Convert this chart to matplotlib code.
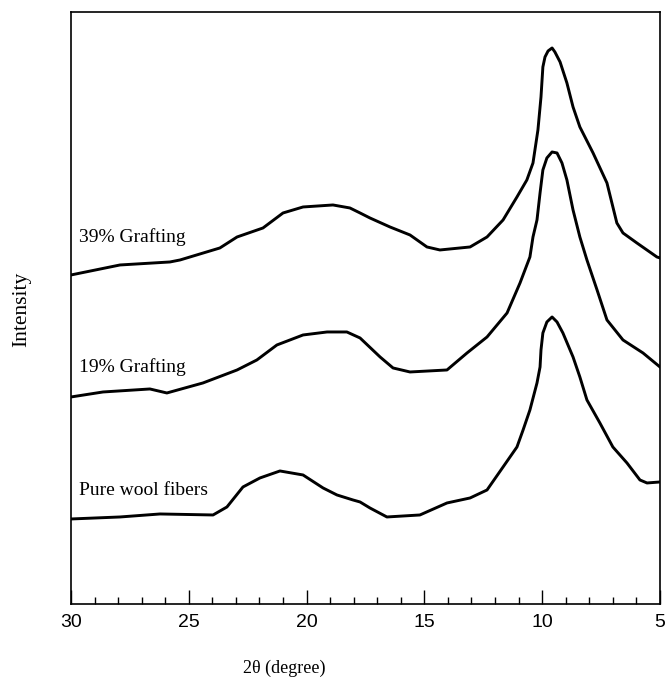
import matplotlib.pyplot as plt
from matplotlib.ticker import MultipleLocator

# 2-theta (degree) and intensity (arbitrary units)
theta_39 = [30.00, 27.92, 25.80, 25.37, 23.68, 22.95, 21.85, 21.00, 20.15, 18.88,
            18.16, 17.73, 17.31, 16.46, 15.61, 14.89, 14.34, 13.06, 12.34, 11.66,
            11.07, 10.65, 10.39, 10.18, 10.05, 9.97, 9.88, 9.75, 9.58, 9.46,
            9.24, 8.95, 8.69, 8.40, 7.84, 7.25, 6.83, 6.57, 5.98, 5.13,
            5.00]
int_39 = [329, 339, 342, 344, 356, 367, 376, 391, 397, 399,
          396, 391, 386, 377, 369, 357, 354, 357, 367, 384,
          407, 424, 441, 474, 507, 537, 547, 553, 556, 552,
          542, 521, 497, 477, 451, 421, 381, 371, 361, 347,
          346]

theta_19 = [30.00, 28.64, 26.65, 25.93, 24.40, 22.95, 22.11, 21.26, 20.15, 19.13,
            18.29, 17.73, 16.88, 16.33, 15.61, 14.04, 13.19, 12.34, 11.49, 10.94,
            10.52, 10.39, 10.22, 10.09, 9.97, 9.80, 9.58, 9.37, 9.16, 8.95,
            8.69, 8.40, 8.10, 7.67, 7.25, 6.57, 5.72, 5.00]
int_19 = [207, 212, 215, 211, 221, 234, 244, 259, 269, 272,
          272, 266, 247, 236, 232, 234, 251, 267, 291, 321,
          347, 367, 384, 411, 434, 446, 452, 451, 441, 424,
          394, 367, 344, 314, 284, 264, 251, 237]

theta_wool = [30.00, 27.92, 26.22, 23.97, 23.38, 22.70, 21.98, 21.13, 20.15, 19.30,
              18.71, 18.03, 17.73, 17.31, 16.59, 15.19, 14.04, 13.06, 12.34, 11.66,
              11.07, 10.81, 10.52, 10.22, 10.09, 10.05, 9.97, 9.80, 9.58, 9.37,
              9.12, 8.69, 8.40, 8.10, 7.55, 7.00, 6.40, 5.85, 5.55, 5.00]
int_wool = [85, 87, 90, 89, 97, 117, 126, 133, 129, 116,
            109, 104, 102, 96, 87, 89, 101, 106, 114, 137,
            157, 174, 194, 221, 237, 254, 271, 282, 287, 282,
            271, 247, 227, 204, 181, 157, 141, 124, 121, 122]

labels = ["39% Grafting", "19% Grafting", "Pure wool fibers"]
label_y = [362, 232, 109]

serif = "Liberation Serif"
sans = "Liberation Sans"

fig = plt.figure(figsize=(6.69, 6.84), dpi=100)
ax = fig.add_axes([0.1061, 0.1170, 0.8804, 0.8655])

for th, inten in [(theta_39, int_39), (theta_19, int_19), (theta_wool, int_wool)]:
    ax.plot(th, inten, color="black", lw=2.1, solid_joinstyle="round")

for lab, yy in zip(labels, label_y):
    ax.text(29.65, yy, lab, family=serif, fontsize=14, va="baseline", ha="left")

ax.set_xlim(30, 5)
ax.set_ylim(0, 592)
ax.xaxis.set_major_locator(MultipleLocator(5))
ax.xaxis.set_minor_locator(MultipleLocator(1))
ax.tick_params(axis="x", which="major", direction="in", length=10, width=1, pad=7,
               labelsize=14, top=False)
ax.tick_params(axis="x", which="minor", direction="in", length=5, width=1, top=False)
for lbl in ax.get_xticklabels():
    lbl.set_family(sans)
ax.set_yticks([])
for sp in ax.spines.values():
    sp.set_linewidth(1.2)

fig.text(284 / 669, 1 - 668 / 684, "2\u03b8 (degree)", family=serif, fontsize=13,
         ha="center", va="center")
fig.text(22 / 669, 1 - 309 / 684, "Intensity", family=serif, fontsize=15.5,
         rotation=90, ha="center", va="center")

fig.savefig("out.png", dpi=100)
